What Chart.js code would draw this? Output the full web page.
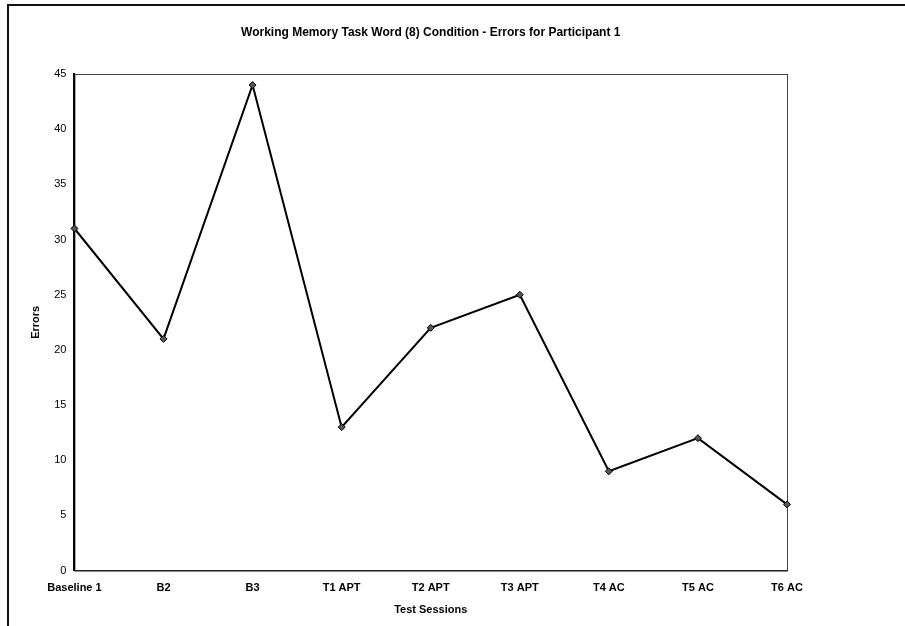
<!DOCTYPE html>
<html>
<head>
<meta charset="utf-8">
<script src="https://cdn.jsdelivr.net/npm/chart.js@4.4.1/dist/chart.umd.min.js"></script>
<style>
  html, body { margin: 0; padding: 0; background: #fff; }
  #wrap { width: 905px; height: 626px; position: relative; }
</style>
</head>
<body>
<div id="wrap"><canvas id="grafico" width="905" height="626"></canvas></div>
<script>
const titulo = 'Working Memory Task Word (8) Condition - Errors for Participant 1';
const sesiones = ['Baseline 1', 'B2', 'B3', 'T1 APT', 'T2 APT', 'T3 APT', 'T4 AC', 'T5 AC', 'T6 AC'];
const errores = [31, 21, 44, 13, 22, 25, 9, 12, 6];
const yTicks = [0, 5, 10, 15, 20, 25, 30, 35, 40, 45];

// marco exterior, borde del area de trazado y titulo centrado sobre el area
const marcos = {
    id: 'marcos',
    beforeDraw: (chart) => {
        let ctx = chart.ctx;
        ctx.save();
        ctx.strokeStyle = '#111';
        ctx.lineWidth = 2;
        ctx.beginPath();
        ctx.moveTo(8, 626);
        ctx.lineTo(8, 5);
        ctx.lineTo(905, 5);
        ctx.stroke();
        let a = chart.chartArea;
        ctx.strokeStyle = '#444';
        ctx.lineWidth = 1;
        ctx.strokeRect(a.left + 0.5, a.top + 0.5, a.right - a.left, a.bottom - a.top);
        ctx.fillStyle = '#000';
        ctx.font = "bold 12px 'Liberation Sans', Arial, sans-serif";
        ctx.textAlign = 'center';
        ctx.textBaseline = 'middle';
        ctx.fillText(titulo, (a.left + a.right) / 2, 33);
        ctx.restore();
    }
};

Chart.defaults.font.family = "'Liberation Sans', Arial, sans-serif";
Chart.defaults.color = '#000';

new Chart(document.getElementById('grafico').getContext('2d'), {
    type: 'line',
    data: {
        labels: sesiones,
        datasets: [{
            data: errores,
            borderColor: '#000',
            backgroundColor: '#000',
            borderWidth: 2,
            pointStyle: 'rectRot',
            pointRadius: 3.5,
            pointBackgroundColor: '#555',
            pointBorderColor: '#000',
            pointBorderWidth: 1,
            tension: 0,
            fill: false
        }]
    },
    options: {
        responsive: false,
        animation: false,
        layout: { padding: { left: 29, right: 118, top: 74, bottom: 9 } },
        plugins: {
            legend: { display: false },
            tooltip: { enabled: false },
            title: { display: false }
        },
        scales: {
            x: {
                offset: false,
                grid: { display: false, drawTicks: true, tickLength: 4, color: '#000' },
                border: { display: true, color: '#222', width: 1 },
                ticks: { font: { size: 11, weight: 'bold' }, maxRotation: 0, autoSkip: false, padding: 7 },
                title: { display: true, text: 'Test Sessions', font: { size: 11, weight: 'bold' }, padding: { top: 2, bottom: 0 } }
            },
            y: {
                min: 0,
                max: 45,
                afterBuildTicks: (axis) => { axis.ticks = yTicks.map(v => ({ value: v })); },
                grid: { display: false, drawTicks: true, tickLength: 4, color: '#000' },
                border: { display: true, color: '#000', width: 2 },
                ticks: { font: { size: 11 }, padding: 4 },
                title: { display: true, text: 'Errors', font: { size: 11, weight: 'bold' }, padding: { top: 0, bottom: 8 } }
            }
        }
    },
    plugins: [marcos]
});
</script>
</body>
</html>
